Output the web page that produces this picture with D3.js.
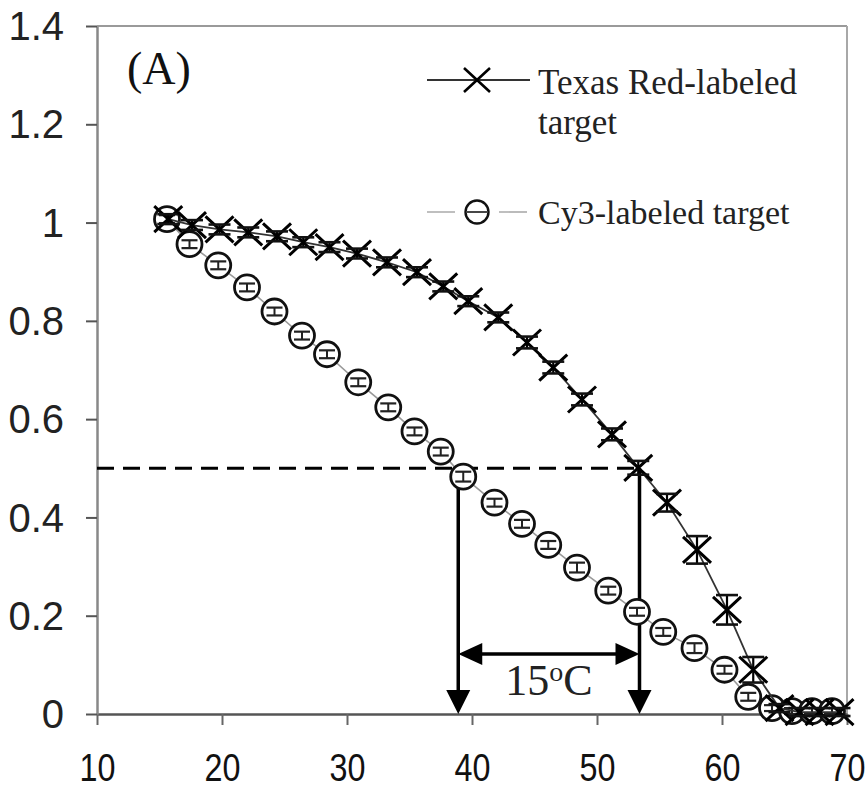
<!DOCTYPE html>
<html>
<head>
<meta charset="utf-8">
<script src="https://cdn.jsdelivr.net/npm/d3@7"></script>
<style>
  html, body { margin: 0; padding: 0; background: #fff; }
  svg { display: block; }
</style>
</head>
<body>
<svg id="chart" width="867" height="791"></svg>
<script>
// ---- data ----
const texasT   = [15.7, 17.6, 19.8, 22.1, 24.4, 26.5, 28.6, 30.8, 33.2, 35.6, 37.7, 39.7, 42.1, 44.4, 46.5, 48.8, 51.2, 53.3, 55.6, 58.0, 60.4, 62.5, 64.6, 66.2, 67.8, 69.4];
const texasVal = [1.007, 0.995, 0.986, 0.980, 0.972, 0.960, 0.950, 0.937, 0.919, 0.899, 0.870, 0.840, 0.807, 0.756, 0.705, 0.640, 0.569, 0.501, 0.430, 0.334, 0.212, 0.090, 0.012, 0.004, 0.004, 0.004];
const texasErr = [0.010, 0.010, 0.010, 0.010, 0.010, 0.010, 0.010, 0.010, 0.010, 0.010, 0.010, 0.010, 0.010, 0.012, 0.012, 0.012, 0.012, 0.014, 0.018, 0.028, 0.030, 0.026, 0.008, 0.006, 0.006, 0.006];

const cy3T   = [15.6, 17.4, 19.7, 22.0, 24.2, 26.4, 28.4, 30.9, 33.3, 35.4, 37.5, 39.3, 41.8, 44.0, 46.1, 48.4, 50.9, 53.2, 55.3, 57.8, 60.2, 62.1, 64.0, 65.6, 67.2, 68.8];
const cy3Val = [1.007, 0.956, 0.913, 0.868, 0.819, 0.770, 0.732, 0.675, 0.624, 0.575, 0.534, 0.483, 0.430, 0.387, 0.344, 0.298, 0.251, 0.208, 0.167, 0.134, 0.090, 0.035, 0.012, 0.006, 0.006, 0.006];
const cy3Err = [0.008, 0.008, 0.008, 0.008, 0.008, 0.008, 0.008, 0.008, 0.008, 0.008, 0.008, 0.010, 0.008, 0.008, 0.008, 0.010, 0.008, 0.008, 0.008, 0.010, 0.008, 0.008, 0.006, 0.006, 0.006, 0.006];

const xTicks = [10, 20, 30, 40, 50, 60, 70];
const yTicks = [0, 0.2, 0.4, 0.6, 0.8, 1, 1.2, 1.4];
const yTickLabels = ["0", "0.2", "0.4", "0.6", "0.8", "1", "1.2", "1.4"];

const seriesNames = ["Texas Red-labeled", "target", "Cy3-labeled target"];
const panelLabel = "(A)";

// annotation values (data units)
const halfLevel = 0.5;
const tmCy3 = 38.9, tmTexas = 53.4;
const deltaArrowLevel = 0.122;
const deltaText = ["15", "o", "C"];

// ---- layout ----
const svg = d3.select("#chart");
const x = d3.scaleLinear().domain([10, 70]).range([97, 847]);
const y = d3.scaleLinear().domain([0, 1.4]).range([714, 26]);

// frame (top & right, light gray)
svg.append("line").attr("x1", x(10)).attr("x2", x(70)).attr("y1", y(1.4)).attr("y2", y(1.4))
  .attr("stroke", "#9a9a9a").attr("stroke-width", 2);
svg.append("line").attr("x1", x(70)).attr("x2", x(70)).attr("y1", y(1.4)).attr("y2", y(0))
  .attr("stroke", "#a8a8a8").attr("stroke-width", 2);

// axes
const xAxis = d3.axisBottom(x).tickValues(xTicks).tickSize(11).tickSizeOuter(0).tickFormat(d3.format("d"));
const gx = svg.append("g").attr("transform", `translate(0,${y(0)})`).call(xAxis);
gx.select(".domain").attr("stroke", "#555").attr("stroke-width", 2.5);
gx.selectAll(".tick line").attr("stroke", "#666").attr("stroke-width", 2);
gx.selectAll(".tick text").attr("font-family", "'Liberation Sans', Arial, sans-serif")
  .attr("font-size", 38).attr("fill", "#111").attr("dy", null).attr("y", 67)
  .attr("transform", "scale(0.85,1)");

const yAxis = d3.axisLeft(y).tickValues(yTicks).tickSize(11).tickSizeOuter(0)
  .tickFormat((d, i) => yTickLabels[i]);
const gy = svg.append("g").attr("transform", `translate(${x(10)},0)`).call(yAxis);
gy.select(".domain").attr("stroke", "#888").attr("stroke-width", 2.5);
gy.selectAll(".tick line").attr("stroke", "#555").attr("stroke-width", 2);
gy.selectAll(".tick text").attr("font-family", "'Liberation Sans', Arial, sans-serif")
  .attr("font-size", 40).attr("fill", "#222").attr("x", -33).attr("dy", "0.34em");

// dashed 50% line
svg.append("line").attr("x1", x(10)).attr("x2", x(tmTexas)).attr("y1", y(halfLevel)).attr("y2", y(halfLevel))
  .attr("stroke", "#000").attr("stroke-width", 3).attr("stroke-dasharray", "17,9");

// vertical drop lines with arrowheads
[tmCy3, tmTexas].forEach(t => {
  svg.append("line").attr("x1", x(t)).attr("x2", x(t)).attr("y1", y(halfLevel)).attr("y2", y(0) - 20)
    .attr("stroke", "#000").attr("stroke-width", 3.5);
  svg.append("path")
    .attr("d", `M${x(t) - 12},${y(0) - 24} L${x(t) + 12},${y(0) - 24} L${x(t)},${y(0)} Z`)
    .attr("fill", "#000");
});

// horizontal double arrow
const ya = y(deltaArrowLevel);
svg.append("line").attr("x1", x(tmCy3) + 18).attr("x2", x(tmTexas) - 18).attr("y1", ya).attr("y2", ya)
  .attr("stroke", "#000").attr("stroke-width", 3.5);
svg.append("path").attr("d", `M${x(tmCy3)},${ya} L${x(tmCy3) + 24},${ya - 11} L${x(tmCy3) + 24},${ya + 11} Z`).attr("fill", "#000");
svg.append("path").attr("d", `M${x(tmTexas)},${ya} L${x(tmTexas) - 24},${ya - 11} L${x(tmTexas) - 24},${ya + 11} Z`).attr("fill", "#000");

const dt = svg.append("text").attr("x", (x(tmCy3) + x(tmTexas)) / 2).attr("y", ya + 41)
  .attr("text-anchor", "middle").attr("font-family", "'Liberation Serif', 'Times New Roman', serif")
  .attr("font-size", 44).attr("fill", "#222");
dt.append("tspan").text(deltaText[0]);
dt.append("tspan").text(deltaText[1]).attr("font-size", 28).attr("dy", -14);
dt.append("tspan").text(deltaText[2]).attr("dy", 14);

// ---- series ----
const texas = texasT.map((t, i) => ({ t, v: texasVal[i], e: texasErr[i] }));
const cy3 = cy3T.map((t, i) => ({ t, v: cy3Val[i], e: cy3Err[i] }));
const line = d3.line().x(d => x(d.t)).y(d => y(d.v));

// Cy3 connecting line (light gray)
svg.append("path").datum(cy3).attr("d", line).attr("fill", "none")
  .attr("stroke", "#999").attr("stroke-width", 1.6);

// Cy3 circles
const cg = svg.append("g").selectAll("g").data(cy3).join("g")
  .attr("transform", d => `translate(${x(d.t)},${y(d.v)})`);
cg.append("circle").attr("r", 12.5).attr("fill", "#fff").attr("stroke", "#111").attr("stroke-width", 2.8);
cg.each(function (d) {
  const g = d3.select(this);
  const h = y(0) - y(d.e);
  g.append("line").attr("x1", 0).attr("x2", 0).attr("y1", -h).attr("y2", h).attr("stroke", "#222").attr("stroke-width", 2);
  g.append("line").attr("x1", -8).attr("x2", 8).attr("y1", -h).attr("y2", -h).attr("stroke", "#222").attr("stroke-width", 2.2);
  g.append("line").attr("x1", -8).attr("x2", 8).attr("y1", h).attr("y2", h).attr("stroke", "#222").attr("stroke-width", 2.2);
});

// Texas Red connecting line
svg.append("path").datum(texas).attr("d", line).attr("fill", "none")
  .attr("stroke", "#333").attr("stroke-width", 1.8);

// Texas Red X markers with error bars
const tg = svg.append("g").selectAll("g").data(texas).join("g")
  .attr("transform", d => `translate(${x(d.t)},${y(d.v)})`);
tg.each(function (d) {
  const g = d3.select(this);
  const h = Math.max(y(0) - y(d.e), 4);
  g.append("path").attr("d", "M-14,-13 L14,13 M-14,13 L14,-13")
    .attr("stroke", "#000").attr("stroke-width", 3).attr("fill", "none");
  g.append("line").attr("x1", 0).attr("x2", 0).attr("y1", -h).attr("y2", h).attr("stroke", "#000").attr("stroke-width", 2.2);
  g.append("line").attr("x1", -11).attr("x2", 11).attr("y1", -h).attr("y2", -h).attr("stroke", "#111").attr("stroke-width", 2.6);
  g.append("line").attr("x1", -11).attr("x2", 11).attr("y1", h).attr("y2", h).attr("stroke", "#111").attr("stroke-width", 2.6);
});

// ---- panel label ----
svg.append("text").attr("x", 127).attr("y", 84).text(panelLabel)
  .attr("font-family", "'Liberation Serif', 'Times New Roman', serif").attr("font-size", 46).attr("fill", "#111");

// ---- legend ----
const lf = "'Liberation Serif', 'Times New Roman', serif";
svg.append("line").attr("x1", 427).attr("x2", 530).attr("y1", 80).attr("y2", 80).attr("stroke", "#333").attr("stroke-width", 2);
svg.append("path").attr("transform", "translate(477,80)").attr("d", "M-13,-12 L13,12 M-13,12 L13,-12")
  .attr("stroke", "#000").attr("stroke-width", 2.6).attr("fill", "none");
svg.append("text").attr("x", 538).attr("y", 94).text(seriesNames[0]).attr("font-family", lf).attr("font-size", 35).attr("fill", "#222");
svg.append("text").attr("x", 538).attr("y", 134).text(seriesNames[1]).attr("font-family", lf).attr("font-size", 35).attr("fill", "#222");

svg.append("line").attr("x1", 427).attr("x2", 530).attr("y1", 212).attr("y2", 212).attr("stroke", "#aaa").attr("stroke-width", 1.6)
  .attr("stroke-dasharray", "28,20,4,20");
svg.append("circle").attr("cx", 477).attr("cy", 212).attr("r", 11.5).attr("fill", "#fff").attr("stroke", "#111").attr("stroke-width", 2.4);
svg.append("line").attr("x1", 467).attr("x2", 487).attr("y1", 212).attr("y2", 212).attr("stroke", "#333").attr("stroke-width", 1.8);
svg.append("text").attr("x", 538).attr("y", 224).text(seriesNames[2]).attr("font-family", lf).attr("font-size", 34).attr("fill", "#222");
</script>
</body>
</html>
